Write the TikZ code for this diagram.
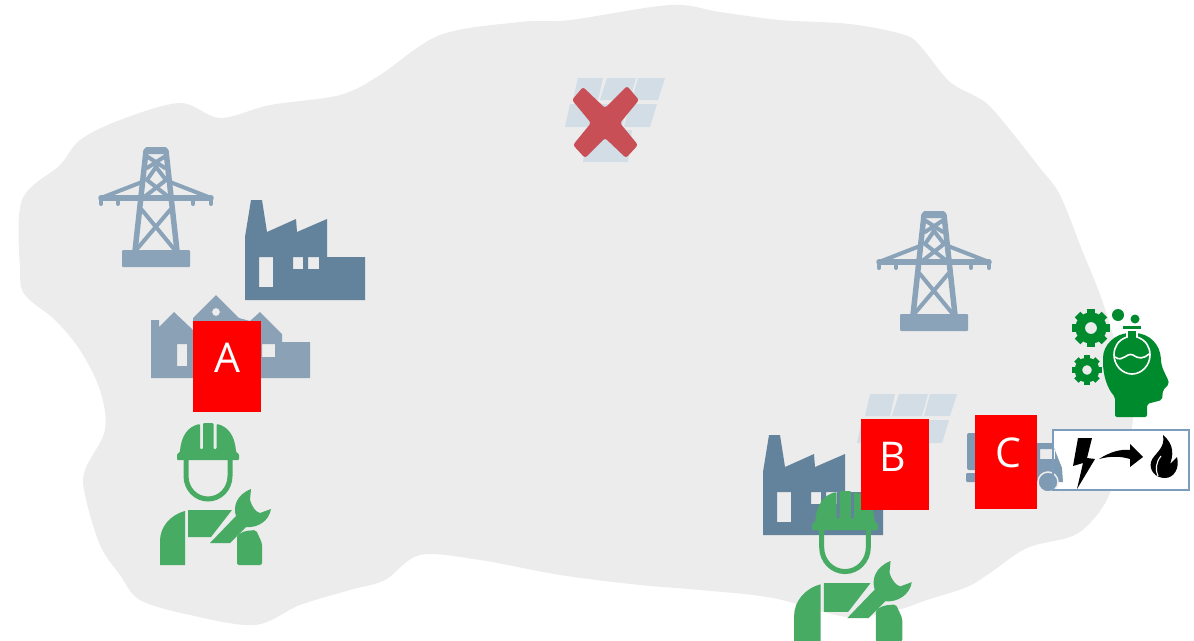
\documentclass[tikz,border=0pt]{standalone}
\usepackage{fontspec}
\usetikzlibrary{calc}
\setmainfont{Open Sans}
\definecolor{blobgrey}{HTML}{ECECEC}
\definecolor{towerblue}{HTML}{8AA3B8}
\definecolor{plantblue}{HTML}{63829C}
\definecolor{houseblue}{HTML}{8AA1B6}
\definecolor{truckblue}{HTML}{7F9BB3}
\definecolor{panelblue}{HTML}{D3DDE6}
\definecolor{workergreen}{HTML}{48AB64}
\definecolor{mindgreen}{HTML}{008A2E}
\definecolor{crossred}{HTML}{C94F57}
\definecolor{frameblue}{HTML}{7C9DBE}
\begin{document}
\begin{tikzpicture}[x=1pt, y=-1pt,
    tower/.style={draw=towerblue, line width=5.5pt, line cap=round},
    towerlight/.style={draw=towerblue, line width=4pt, line cap=round},
    plant/.style={fill=plantblue, even odd rule},
    houses/.style={fill=houseblue, even odd rule},
    panel/.style={fill=panelblue},
    worker/.style={fill=workergreen},
    mind/.style={fill=mindgreen},
    redbox/.style={fill=red, inner sep=0pt},
    redlabel/.style={text=white, font=\fontsize{41}{44}\selectfont, inner sep=0pt}]
  % A power pylon: #1, #2 = middle of its top edge.
  \newcommand{\pylon}[2]{%
    \begin{scope}[shift={(#1,#2)}]
      \fill[towerblue, rounded corners=1.5pt] (-11,-1) -- (11,-1) -- (12,6) -- (-12,6) -- cycle;
      \fill[towerblue, rounded corners=1pt] (-34,102) rectangle (34,119);
      \draw[tower] (-10,3) -- (-21,103)  (10,3) -- (21,103);
      \draw[towerlight] (-8,9) -- (9,20)  (8,9) -- (-9,20)  (0,19) -- (-9,32) -- (14,50)
                        (0,19) -- (10,32) -- (-13,50)  (-14,62) -- (18,101)  (14,62) -- (-19,101);
      \draw[towerlight] (-14,34) -- (-55,50)  (14,34) -- (55,50);
      \draw[tower] (-55,50) -- (55,50);
      \foreach \x in {-55,-38,37,55} \draw[towerlight] (\x,50) -- (\x,56);
    \end{scope}}
  % A factory: #1, #2 = its lower left corner.
  \newcommand{\factory}[2]{%
    \begin{scope}[shift={(#1,#2)}]
      \fill[plant] (0,0) -- (0,-63) -- (6,-100) -- (17,-100) -- (22,-68) -- (51,-81) -- (52,-68)
                   -- (82,-81) -- (82,-43) -- (120,-43) -- (120,0) -- cycle
                   (14,-43) rectangle (28,-13)  (48,-43) rectangle (58,-31)  (63,-43) rectangle (74,-31);
    \end{scope}}
  % A solar panel: #1, #2 = left top corner of its first cell.
  \newcommand{\solarpanel}[2]{%
    \begin{scope}[shift={(#1,#2)}]
      \fill[panel] (0,0) -- (25,0) -- (20,22) -- (-5,22) -- cycle;
      \fill[panel] (29,0) -- (58,0) -- (52,22) -- (22,22) -- cycle;
      \fill[panel] (60,0) -- (87,0) -- (80,22) -- (54,22) -- cycle;
      \fill[panel] (-8,26) -- (20,26) -- (14,49) -- (-13,49) -- cycle;
      \fill[panel] (22,26) -- (50,26) -- (44,49) -- (16,49) -- cycle;
      \fill[panel] (52,26) -- (79,26) -- (72,49) -- (46,49) -- cycle;
      \fill[panel] (10,52) -- (54,52) -- (50,84) -- (5,84) -- cycle;
    \end{scope}}
  % A worker with helmet and spanner: #1, #2 = top of the helmet, #3 = scale.
  \newcommand{\fitter}[3]{%
    \begin{scope}[shift={(#1,#2)}, scale=#3]
      \fill[worker, rounded corners=1pt] (-31,37) -- (-31,31) -- (-28,29) .. controls (-27,12) and (-19,3) .. (-8,1)
        -- (-8,26) -- (-5,26) -- (-5,0) -- (5.5,0) -- (5.5,26) -- (8.5,26) -- (8.5,1)
        .. controls (19,3) and (27,12) .. (28,29) -- (31,31) -- (31,37) -- cycle;
      \draw[workergreen, line width=5pt] (-22,36) -- (-22,53) .. controls (-22,66) and (-12,76) .. (0,76)
        .. controls (12,76) and (22,66) .. (22,53) -- (22,36);
      \fill[worker] (-23,88) .. controls (-38,92) and (-48,104) .. (-48,118) -- (-48,142) -- (-23,142) -- cycle;
      \fill[worker] (-20,87) -- (24,87) -- (3,114) -- (-20,114) -- cycle;
      \fill[worker, rounded corners=2pt] (29,142) -- (29,112) -- (37,108) -- (48,107) -- (54,120) -- (54,142) -- cycle;
      \fill[worker] (2,120) -- (28,93) .. controls (25,84) and (28,72) .. (43,66) -- (42,77)
        .. controls (44,84) and (48,89) .. (52,90) -- (63,86) .. controls (61,98) and (50,105) .. (38,104)
        -- (22,120) -- cycle;
    \end{scope}}
  % A gear wheel: #1, #2 = its centre, #3 = outer radius.
  \newcommand{\gearwheel}[3]{%
    \draw[mindgreen, line width=#3*0.5pt] (#1,#2) circle[radius=#3*0.57pt];
    \foreach \a in {0,45,...,315}
      \draw[mindgreen, line width=#3*0.42pt] ($(#1,#2)+(\a:#3*0.7)$) -- ($(#1,#2)+(\a:#3)$);}

  \useasboundingbox (0,0) rectangle (1194,640);
  % the grey land
  \fill[blobgrey] plot[smooth cycle, tension=0.55] coordinates {(670,5) (720,12) (780,20) (850,24) (905,35) (922,48)
    (950,82) (985,102) (1010,130) (1040,168) (1060,195) (1082,250) (1102,300) (1120,360) (1133,420) (1110,493)
    (1090,523) (1070,537) (1027,548) (990,573) (967,587) (927,600) (897,610) (847,617) (773,598) (700,590)
    (640,585) (560,575) (480,560) (420,555) (385,580) (350,590) (300,605) (255,625) (190,615) (140,600) (120,575)
    (100,545) (85,495) (85,470) (105,430) (100,390) (80,350) (55,320) (25,295) (20,270) (22,200) (60,165)
    (80,140) (120,120) (180,103) (220,118) (270,105) (340,95) (380,75) (440,35) (520,22) (570,20)};

  \pylon{156}{148}
  \pylon{934}{212}
  \factory{245}{300}
  \solarpanel{578}{78}
  \solarpanel{870}{394}
  % houses at the left
  \fill[houses] (151,378) -- (151,320) -- (159,320) -- (159,327) -- (174,312) -- (193,330) -- (193,318) -- (216,295)
    -- (239,318) -- (250,321) -- (260,312) -- (282,334) -- (282,342) -- (310,342) -- (310,378) -- cycle
    (216,312) circle[radius=4pt]  (177,344) rectangle (187,366)  (262,344) rectangle (275,357);
  % the cross over the panel
  \fill[crossred, rounded corners=2.5pt] (583,87) -- (605,108) -- (627,86) -- (639,100) -- (620,123) -- (638,145)
    -- (626,158) -- (605,138) -- (585,158) -- (573,145) -- (591,123) -- (572,100) -- cycle;

  \fitter{208}{423}{1}
  \factory{763}{535}
  \fitter{845}{491}{1.06}

  % mind with flask and gears
  \gearwheel{1091}{328}{19}
  \gearwheel{1087}{370}{15}
  \fill[mindgreen] (1118,315) circle[radius=6pt]  (1135,319) circle[radius=4.5pt];
  \fill[mind, rounded corners=2pt] (1115,417) -- (1115,397) .. controls (1107,388) and (1103,375) .. (1103,360)
    .. controls (1103,345) and (1115,333) .. (1132,333) .. controls (1150,333) and (1160,345) .. (1161,360)
    .. controls (1162,370) and (1168,378) .. (1169,384) -- (1163,390) -- (1162,400) -- (1147,404) -- (1147,417) -- cycle;
  \fill[mindgreen] (1123,326) rectangle (1141,329);
  \draw[white, line width=1.6pt, fill=mindgreen] (1127,331) -- (1127,337) .. controls (1118,340) and (1114,347) .. (1114,355)
    .. controls (1114,365) and (1122,374) .. (1132,374) .. controls (1142,374) and (1150,365) .. (1150,355)
    .. controls (1150,347) and (1146,340) .. (1137,337) -- (1137,331);
  \draw[white, line width=1.6pt] (1115,357) .. controls (1123,363) and (1126,352) .. (1133,355)
    .. controls (1139,359) and (1143,359) .. (1149,354);

  % framed box with the symbols
  \fill[white] (1053,430) rectangle (1189,490);
  % truck, partly under box C
  \fill[truckblue, rounded corners=2pt] (967,433) -- (990,433) -- (990,470) -- (967,470) -- cycle;
  \fill[truckblue, rounded corners=1pt] (966,473) rectangle (1010,482);
  \fill[truckblue, even odd rule] (1030,443) -- (1052,443) -- (1062,468) -- (1063,482) -- (1030,482) -- cycle
    (1040,449) rectangle (1055,459);
  \fill[truckblue, draw=blobgrey, line width=1.5pt] (1048,482) circle[radius=10pt];
  \node[redbox, minimum width=68pt, minimum height=91pt] (boxA) at (227,366.5) {};
  \node[redbox, minimum width=68pt, minimum height=91pt] (boxB) at (895,464.5) {};
  \node[redbox, minimum width=62pt, minimum height=94pt] (boxC) at (1006,462) {};
  \node[redlabel] (labelA) at (227,358) {A};
  \node[redlabel] (labelB) at (893,457) {B};
  \node[redlabel] (labelC) at (1008,453) {C};
  \draw[frameblue, line width=1.5pt] (1053,430) rectangle (1189,490);
  \fill[black] (1078,438) -- (1092,438) -- (1087,458) -- (1095,459) -- (1077,489) -- (1083,463) -- (1073,466) -- cycle;
  \fill[black] (1099,459) .. controls (1110,452) and (1120,449) .. (1130,450) -- (1130,444) -- (1143,457) -- (1130,467)
    -- (1130,459) .. controls (1120,456) and (1110,456) .. (1099,459) -- cycle;
  \fill[black] (1163,435) .. controls (1175,445) and (1173,456) .. (1170,464) -- (1177,457) .. controls (1180,468) and (1174,478) .. (1165,478)
    .. controls (1155,478) and (1149,470) .. (1151,462) .. controls (1153,454) and (1166,449) .. (1163,435) -- cycle;
  \draw[white, line width=1.1pt] (1161,456) .. controls (1156,462) and (1155,470) .. (1158,476);
\end{tikzpicture}
\end{document}
